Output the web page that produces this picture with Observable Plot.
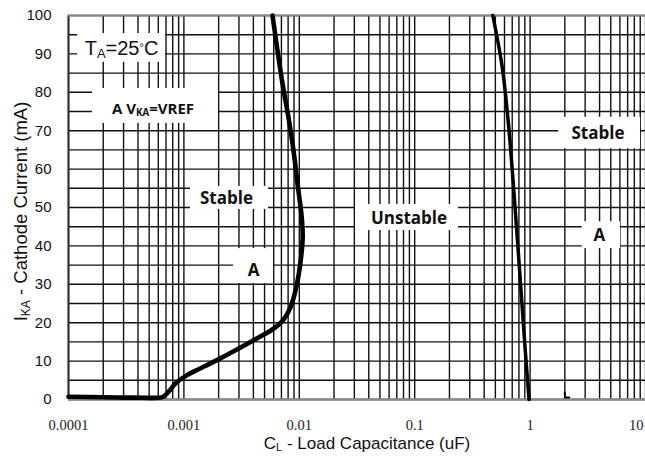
<!DOCTYPE html>
<html><head><meta charset="utf-8">
<script src="https://cdn.jsdelivr.net/npm/d3@7"></script>
<script src="https://cdn.jsdelivr.net/npm/@observablehq/plot@0.6"></script>
<style>
html,body{margin:0;padding:0;background:#fff;overflow:hidden}
</style></head><body><div id="chart"></div>
<script>
// ---- data ----
// Boundary curve 1 (left stability limit): load capacitance (uF) vs cathode current (mA)
const curve1X = [1e-4, 2e-4, 3e-4, 4.5e-4, 6.0e-4, 6.6e-4, 7.2e-4, 7.8e-4, 8.4e-4, 1.03e-3, 1.30e-3, 1.70e-3, 2.07e-3, 2.80e-3, 4.01e-3, 5.62e-3, 6.47e-3, 7.30e-3, 8.39e-3, 9.27e-3, 9.91e-3, 1.045e-2, 1.07e-2, 1.05e-2, 9.64e-3, 8.91e-3, 8.06e-3, 7.15e-3, 6.47e-3, 5.86e-3];
const curve1Y = [0.7, 0.6, 0.5, 0.45, 0.45, 0.7, 1.7, 2.9, 4.1, 6.1, 7.7, 9.4, 10.7, 12.8, 15.4, 17.9, 19.2, 20.8, 24.0, 28.4, 32.8, 38.0, 42.5, 47.4, 56.3, 64.8, 73.4, 82.3, 90.9, 100];
// Boundary curve 2 (right stability limit)
const curve2X = [0.98, 0.912, 0.826, 0.733, 0.653, 0.573, 0.475];
const curve2Y = [0, 12, 30.2, 51.8, 70.9, 86.6, 100];
// small stub near x = 2
const stubX = [2.0, 2.0, 2.18];
const stubY = [1.8, 0.5, 0.5];

// axis ticks
const xTicks = [1e-4, 1e-3, 1e-2, 1e-1, 1, 10];
const xTickLabels = ["0.0001", "0.001", "0.01", "0.1", "1", "10"];
const yTicks = [0, 10, 20, 30, 40, 50, 60, 70, 80, 90, 100];
const xTitle = "C_{L} - Load Capacitance (uF)";
const yTitle = "I_{KA} - Cathode Current (mA)";

// annotations (data coordinates)
const condText = ["T_{A}=25^{°}C"];
const condX = [2.88e-4];
const condY = [91.5];
const headText = ["A V_{KA}=VREF"];
const headX = [5.40e-4];
const headY = [75.65];
const noteText = ["Stable", "A", "Unstable", "Stable", "A"];
const noteX = [2.34e-3, 4.01e-3, 0.0893, 3.87, 3.99];
const noteY = [52.3, 33.6, 47.1, 69.3, 42.7];
// white boxes behind the annotations (data coordinates)
const boxX1 = [1.2e-4, 1.61e-4, 1.14e-3, 2.69e-3, 3.07e-2, 1.77, 2.83];
const boxX2 = [6.93e-4, 1.99e-3, 5.41e-3, 5.98e-3, 0.240, 9.06, 6.07];
const boxY1 = [87.8, 71.9, 49.5, 30.2, 44.0, 65.3, 39.3];
const boxY2 = [95.3, 81.0, 55.5, 39.3, 50.8, 73.5, 46.3];

// ---- derived tables ----
const curve1 = curve1X.map((x, i) => ({x, y: curve1Y[i]}));
const curve2 = curve2X.map((x, i) => ({x, y: curve2Y[i]}));
const stub = stubX.map((x, i) => ({x, y: stubY[i]}));
const xGrid = [];
for (let k = -4; k <= 0; k++) for (let m = 1; m <= 9; m++) xGrid.push(+(m * Math.pow(10, k)).toPrecision(3));
xGrid.push(10);
const yGrid = d3.range(0, 101, 5);
const boxes = boxX1.map((x1, i) => ({x1, x2: boxX2[i], y1: boxY1[i], y2: boxY2[i]}));
const notes = noteText.map((t, i) => ({t, x: noteX[i], y: noteY[i]}));
const head = headText.map((t, i) => ({t, x: headX[i], y: headY[i]}));
const cond = condText.map((t, i) => ({t, x: condX[i], y: condY[i]}));
const xt = xTicks.map((x, i) => ({x, t: xTickLabels[i]}));

const sans = "'Liberation Sans', Arial, sans-serif";
const bold = "'Open Sans', sans-serif";
const serif = "'Liberation Serif', 'Times New Roman', serif";

const chart = Plot.plot({
  width: 645, height: 460,
  marginLeft: 68, marginRight: 0, marginTop: 15, marginBottom: 61,
  x: {type: "log", domain: [1e-4, 10], axis: null},
  y: {domain: [0, 100], axis: null},
  style: {fontFamily: sans, background: "white", color: "#111"},
  marks: [
    Plot.ruleX(xGrid, {stroke: "#111", strokeWidth: 1.4}),
    Plot.ruleY(yGrid, {stroke: "#111", strokeWidth: 1.4}),
    Plot.rect(boxes, {x1: "x1", x2: "x2", y1: "y1", y2: "y2", fill: "white"}),
    Plot.ruleX([1e-4], {stroke: "#333", strokeWidth: 2}),
    Plot.ruleY([100], {stroke: "#8a8a8a", strokeWidth: 2}),
    Plot.ruleY([0], {stroke: "#8a8a8a", strokeWidth: 2.5}),
    Plot.line(curve1, {x: "x", y: "y", curve: "catmull-rom", stroke: "black", strokeWidth: 4.6}),
    Plot.line(curve2, {x: "x", y: "y", curve: "catmull-rom", stroke: "black", strokeWidth: 3.5}),
    Plot.line(stub, {x: "x", y: "y", stroke: "black", strokeWidth: 2}),
    Plot.axisY(yTicks, {tickSize: 0, tickPadding: 17, fontSize: 15, fontFamily: sans, label: null}),
    Plot.text(xt.slice(0, -1), {x: "x", text: "t", frameAnchor: "bottom", lineAnchor: "middle", dy: 26, fontSize: 14.5, fontFamily: serif, fill: "#222"}),
    Plot.text(xt.slice(-1), {x: "x", text: "t", frameAnchor: "bottom", lineAnchor: "middle", dy: 26, dx: -2, textAnchor: "end", fontSize: 14.5, fontFamily: serif, fill: "#222"}),
    Plot.text([xTitle], {frameAnchor: "bottom", lineAnchor: "middle", textAnchor: "middle", dy: 44, dx: 10, fontSize: 17, fontFamily: sans, fill: "#111"}),
    Plot.text([yTitle], {frameAnchor: "left", textAnchor: "middle", lineAnchor: "middle", rotate: -90, dx: -47, dy: 4, fontSize: 18.5, fontFamily: sans, fill: "#111"}),
    Plot.text(cond, {x: "x", y: "y", text: "t", fontSize: 20, fontFamily: sans, fill: "#111"}),
    Plot.text(head, {x: "x", y: "y", text: "t", fontSize: 15, fontWeight: "bold", fontFamily: bold, fill: "#111"}),
    Plot.text(notes, {x: "x", y: "y", text: "t", fontSize: 17, fontWeight: "bold", fontFamily: bold, fill: "#111", ariaLabel: "wide-notes"})
  ]
});

// turn _{..} / ^{..} markup into sub/superscript tspans
function richify(svg) {
  svg.querySelectorAll("text").forEach(t => {
    const s = t.textContent;
    if (!/[_^]\{/.test(s)) return;
    t.textContent = "";
    const parts = s.split(/([_^]\{[^}]*\})/);
    const ns = "http://www.w3.org/2000/svg";
    parts.forEach(p => {
      if (!p) return;
      const ts = document.createElementNS(ns, "tspan");
      if (p.startsWith("_{")) {
        ts.textContent = p.slice(2, -1);
        ts.setAttribute("baseline-shift", "-0.22em");
        ts.setAttribute("font-size", "65%");
      } else if (p.startsWith("^{")) {
        ts.textContent = p.slice(2, -1);
        ts.setAttribute("baseline-shift", "0.35em");
        ts.setAttribute("font-size", "55%");
      } else {
        ts.textContent = p;
      }
      t.appendChild(ts);
    });
  });
  svg.querySelectorAll('g[aria-label="wide-notes"] text').forEach(t => t.style.letterSpacing = "0.8px");
}
richify(chart);
document.getElementById("chart").appendChild(chart);
</script>
</body></html>
